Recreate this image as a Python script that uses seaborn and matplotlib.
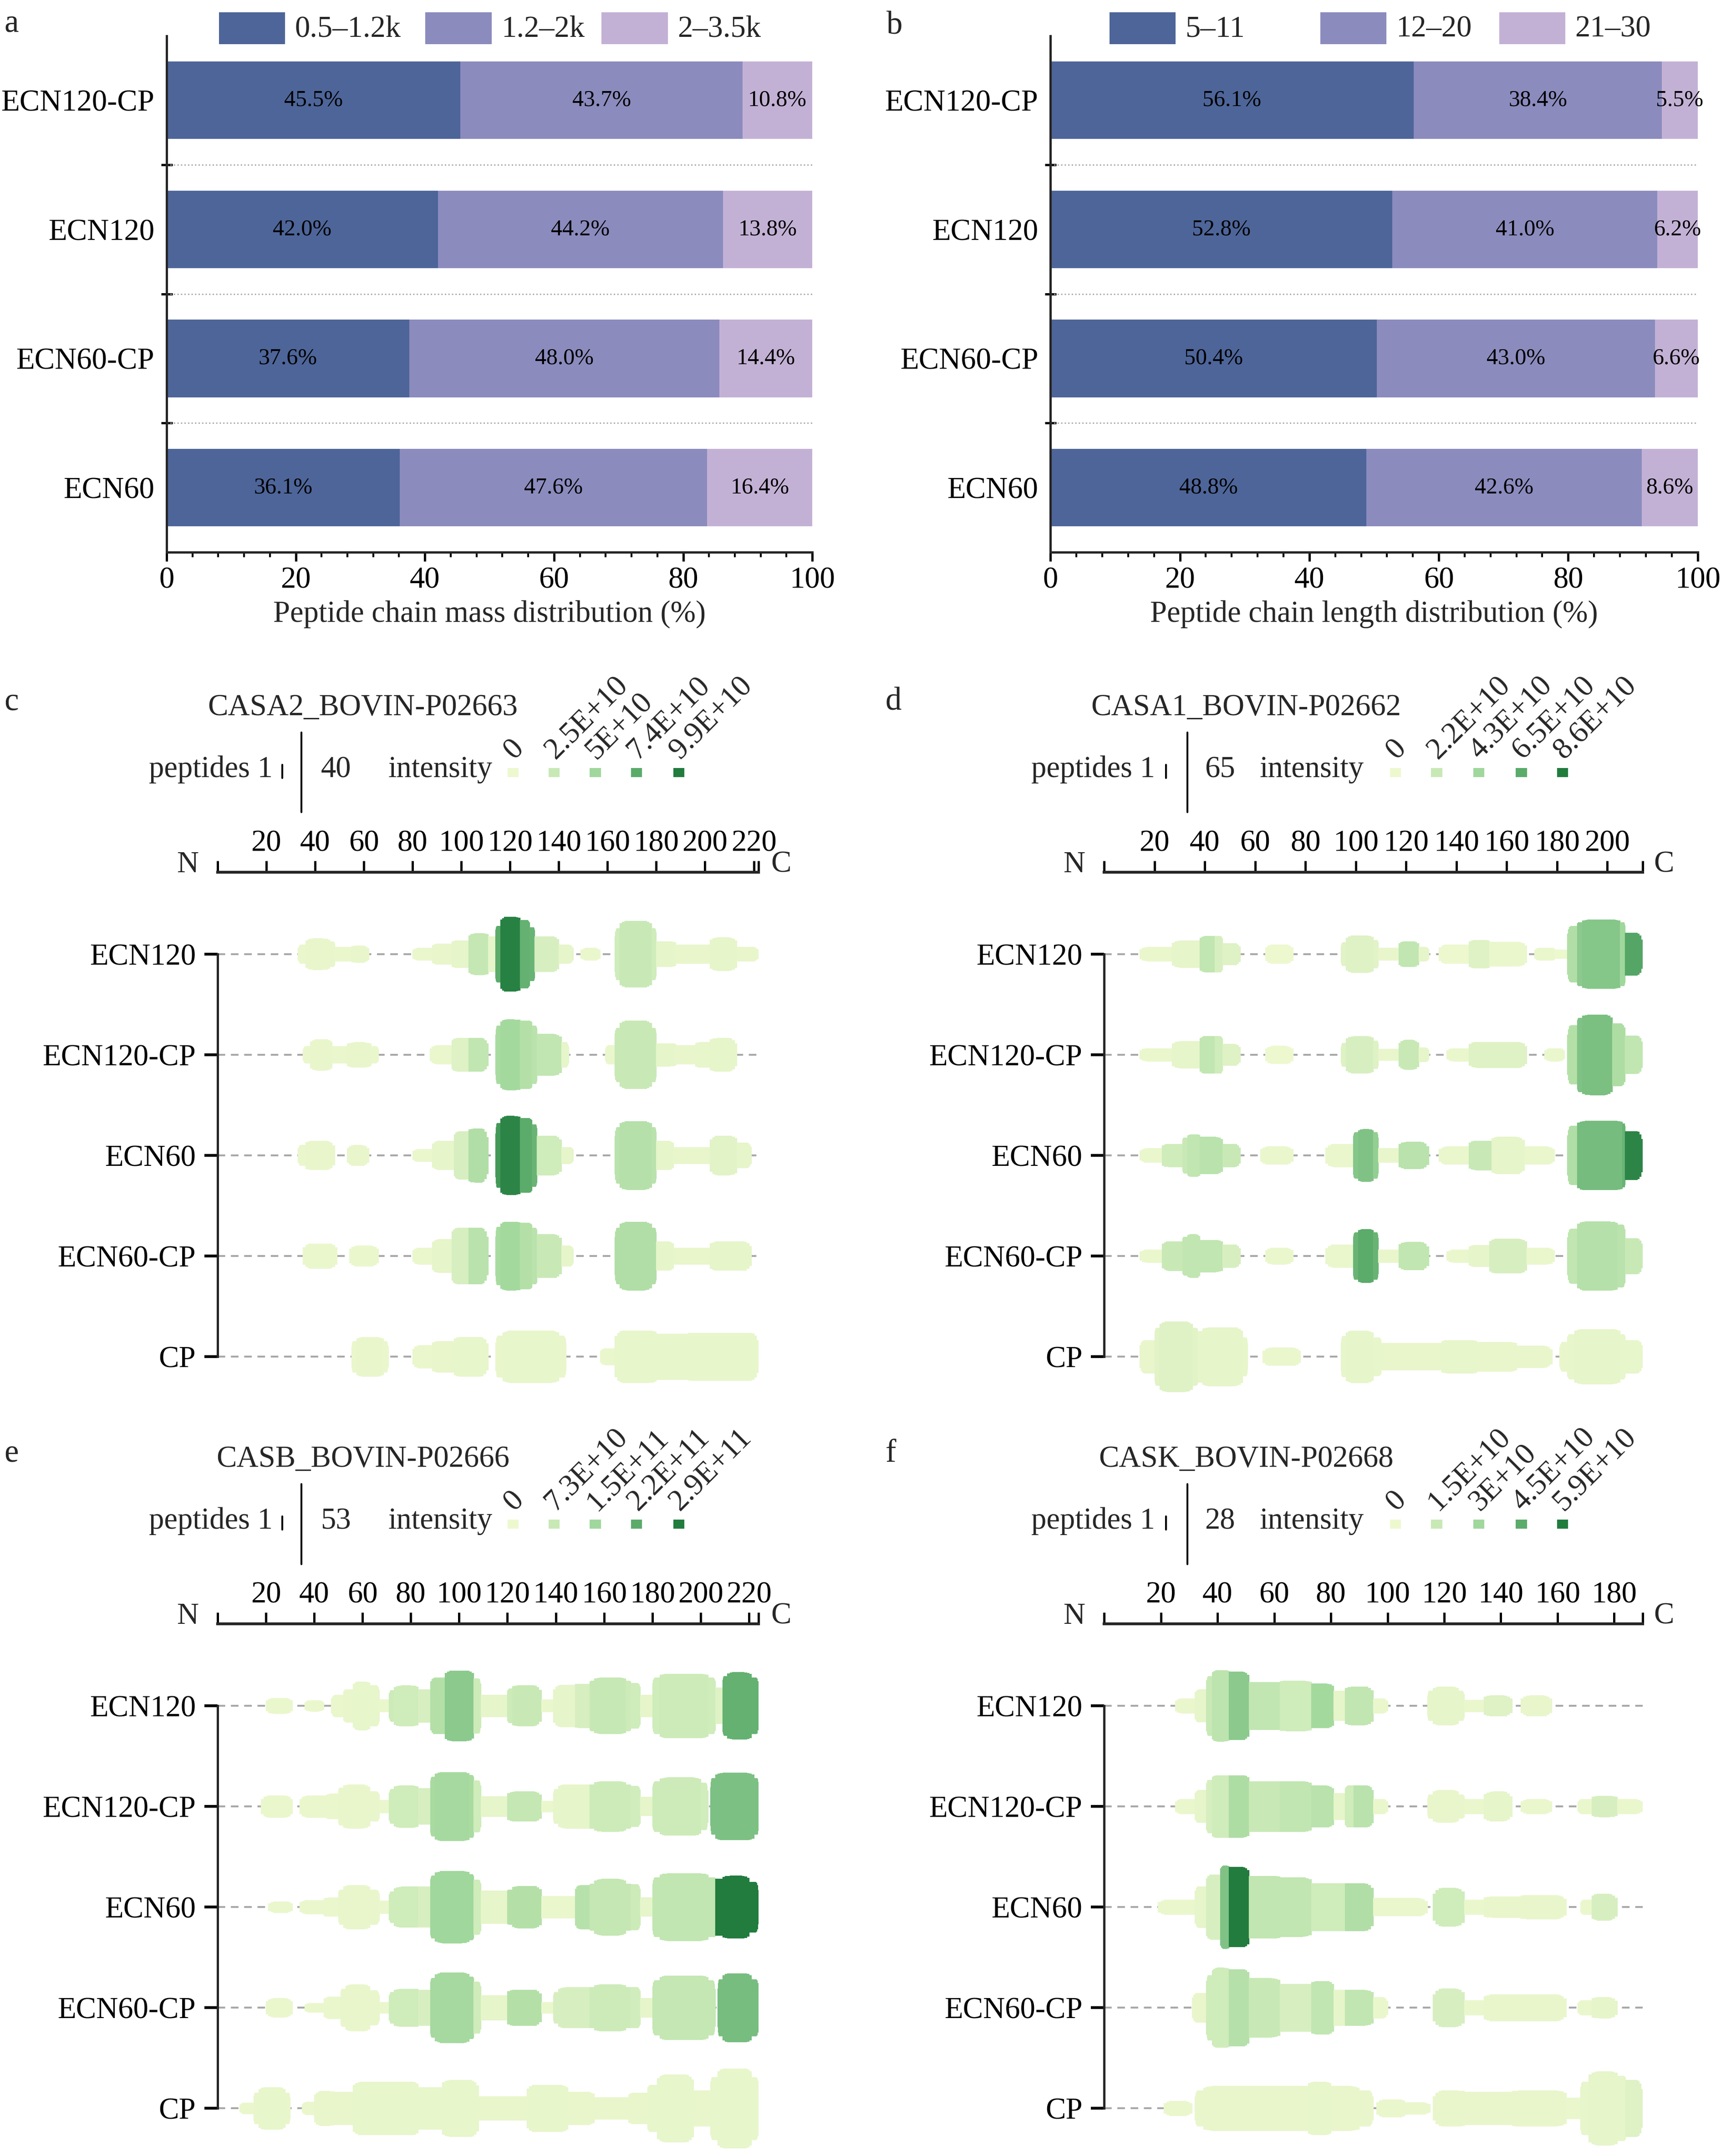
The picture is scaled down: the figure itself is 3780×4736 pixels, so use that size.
import numpy as np
import pandas as pd
import matplotlib
matplotlib.use("Agg")
import matplotlib.pyplot as plt
import seaborn as sns
from matplotlib.colors import LinearSegmentedColormap
from matplotlib.patches import Rectangle
from matplotlib.lines import Line2D
from matplotlib.ticker import MultipleLocator

# ---------------- data: panels a / b ----------------
groups = ["ECN120-CP", "ECN120", "ECN60-CP", "ECN60"]

mass_bins = ["0.5–1.2k", "1.2–2k", "2–3.5k"]
mass_low = [45.5, 42.0, 37.6, 36.1]
mass_mid = [43.7, 44.2, 48.0, 47.6]
mass_high = [10.8, 13.8, 14.4, 16.4]

len_bins = ["5–11", "12–20", "21–30"]
len_short = [56.1, 52.8, 50.4, 48.8]
len_mid = [38.4, 41.0, 43.0, 42.6]
len_long = [5.5, 6.2, 6.6, 8.6]

# ---------------- data: peptide coverage panels ----------------
samples = ["ECN120", "ECN120-CP", "ECN60", "ECN60-CP", "CP"]

# runs: (start residue, end residue, peptide count, relative intensity 0-1)
casa2_runs = {
    "ECN120": [(33, 36, 9, .02), (36, 46, 15, .03), (46, 48, 12, .03), (48, 55, 7, .02), (55, 62, 8, .03),
               (80, 88, 6, .02), (88, 96, 10, .03), (96, 103, 13, .05), (103, 111, 20, .28), (111, 114, 17, .05),
               (114, 116, 27, .75), (116, 124, 36, .97), (124, 128, 33, .72), (128, 130, 26, .7),
               (130, 140, 17, .15), (140, 146, 9, .05), (149, 157, 6, .02),
               (163, 165, 25, .2), (165, 178, 32, .25), (178, 180, 25, .2),
               (180, 188, 12, .05), (188, 202, 9, .03), (202, 213, 16, .05), (213, 222, 7, .03)],
    "ECN120-CP": [(35, 38, 8, .02), (38, 47, 15, .03), (47, 53, 8, .02), (53, 63, 12, .03), (63, 66, 8, .02),
                  (87, 96, 9, .02), (96, 103, 16, .1), (103, 111, 16, .3),
                  (114, 116, 28, .45), (116, 124, 34, .48), (124, 129, 33, .38), (129, 131, 28, .35),
                  (131, 141, 20, .3), (141, 144, 12, .05),
                  (159, 163, 9, .02), (163, 165, 26, .25), (165, 178, 33, .25), (178, 180, 26, .25),
                  (180, 188, 11, .05), (188, 196, 9, .03), (196, 202, 12, .04), (202, 213, 16, .05)],
    "ECN60": [(33, 36, 10, .02), (36, 48, 14, .03), (53, 62, 10, .03),
              (80, 88, 6, .02), (88, 97, 14, .05), (97, 103, 23, .15), (103, 111, 26, .4),
              (114, 116, 31, .85), (116, 124, 38, .95), (124, 129, 36, .75), (129, 131, 30, .7),
              (131, 141, 19, .2), (141, 146, 8, .05),
              (163, 165, 27, .35), (165, 178, 33, .37), (178, 180, 27, .35),
              (180, 187, 14, .05), (187, 202, 8, .03), (202, 213, 19, .08), (213, 219, 12, .05)],
    "ECN60-CP": [(35, 49, 12, .02), (54, 66, 10, .02),
                 (80, 88, 8, .02), (88, 96, 16, .05), (96, 103, 27, .15), (103, 111, 27, .35),
                 (114, 116, 28, .45), (116, 124, 33, .48), (124, 129, 32, .38), (129, 131, 27, .35),
                 (131, 141, 21, .25), (141, 146, 10, .05),
                 (163, 165, 27, .4), (165, 178, 33, .4), (178, 180, 27, .4),
                 (180, 187, 14, .05), (187, 202, 8, .03), (202, 219, 14, .05)],
    "CP": [(55, 57, 15, .02), (57, 68, 19, .03), (68, 70, 15, .02),
           (80, 88, 11, .02), (88, 97, 15, .03), (97, 111, 19, .04),
           (114, 117, 20, .03), (117, 140, 25, .04), (140, 143, 20, .03),
           (157, 163, 8, .02), (163, 180, 25, .04), (180, 193, 22, .04), (193, 200, 23, .04), (200, 222, 23, .04)],
}

casa1_runs = {
    "ECN120": [(14, 27, 11, .02), (27, 38, 21, .05), (38, 44, 28, .3), (44, 47, 28, .15), (47, 54, 17, .1),
               (64, 75, 15, 0), (94, 96, 18, .08), (96, 107, 29, .1), (107, 109, 22, .08), (109, 117, 10, .03),
               (117, 125, 20, .3), (125, 129, 11, .05), (133, 145, 15, 0), (145, 153, 22, .1), (153, 168, 19, .02),
               (171, 179, 10, .02), (179, 184, 7, .01), (184, 188, 44, .4), (188, 190, 50, .58), (190, 205, 54, .6),
               (205, 207, 50, .5), (207, 214, 33, .78)],
    "ECN120-CP": [(14, 27, 10, .02), (27, 38, 21, .05), (38, 44, 29, .3), (44, 47, 29, .2), (47, 54, 17, .1),
                  (64, 75, 14, 0), (94, 96, 18, .1), (96, 107, 29, .15), (107, 109, 22, .1), (109, 117, 9, .03),
                  (117, 125, 23, .25), (125, 129, 11, .05), (136, 145, 10, .02), (145, 168, 20, .1), (175, 183, 10, .02),
                  (184, 188, 46, .38), (188, 190, 58, .62), (190, 202, 63, .64), (202, 207, 49, .42), (207, 214, 30, .3)],
    "ECN60": [(14, 23, 11, .02), (23, 31, 18, .2), (31, 33, 28, .25), (33, 38, 33, .3), (38, 47, 29, .35), (47, 54, 18, .25),
              (62, 75, 14, .02), (88, 99, 18, .02), (99, 101, 36, .6), (101, 107, 41, .62), (107, 109, 36, .55),
              (109, 117, 11, .03), (117, 129, 21, .35), (133, 145, 14, .02), (145, 154, 23, .25), (154, 167, 29, .05),
              (167, 179, 14, .02), (184, 188, 46, .4), (188, 206, 54, .66), (206, 207, 50, .7), (207, 214, 38, .95)],
    "ECN60-CP": [(14, 23, 10, .02), (23, 31, 23, .25), (31, 33, 30, .3), (33, 38, 34, .3), (38, 47, 25, .3), (47, 54, 18, .15),
                 (64, 75, 13, .02), (88, 99, 18, .02), (99, 101, 37, .7), (101, 107, 42, .75), (107, 109, 37, .7),
                 (109, 117, 10, .03), (117, 129, 22, .3), (136, 145, 10, .02), (145, 153, 17, .05), (153, 168, 27, .15),
                 (168, 179, 13, .02), (184, 188, 43, .3), (188, 204, 54, .37), (204, 207, 49, .35), (207, 214, 28, .25)],
    "CP": [(14, 20, 26, .03), (20, 22, 45, .08), (22, 35, 55, .1), (35, 37, 45, .08), (37, 39, 40, .05), (39, 55, 46, .05),
           (55, 57, 30, .04), (63, 78, 14, .02), (94, 96, 32, .04), (96, 107, 41, .05), (107, 110, 30, .04),
           (110, 134, 21, .03), (134, 148, 26, .04), (148, 164, 23, .03), (164, 178, 17, .03), (181, 184, 23, .03),
           (184, 187, 35, .04), (187, 205, 43, .05), (205, 207, 35, .04), (207, 214, 26, .04)],
}

casb_runs = {
    "ECN120": [(20, 31, 10, .02), (36, 44, 7, .02), (47, 52, 14, .02), (52, 56, 21, .03), (56, 63, 31, .04), (63, 67, 26, .04),
               (67, 71, 8, .02), (71, 73, 20, .22), (73, 83, 26, .2), (83, 88, 21, .15), (88, 94, 36, .38), (94, 106, 45, .58),
               (106, 109, 35, .22), (109, 120, 14, .05), (120, 122, 22, .22), (122, 134, 26, .25), (134, 139, 8, .02),
               (139, 148, 27, .05), (148, 154, 28, .15), (154, 156, 32, .26), (156, 169, 36, .27), (169, 171, 32, .22),
               (171, 175, 29, .2), (175, 180, 14, .05), (180, 183, 36, .2), (183, 203, 41, .22), (203, 206, 36, .2),
               (206, 209, 23, .1), (209, 211, 38, .72), (211, 221, 43, .72), (221, 224, 36, .72)],
    "ECN120-CP": [(18, 31, 14, .02), (34, 45, 14, .02), (45, 50, 16, .02), (50, 52, 24, .03), (52, 63, 28, .03), (63, 67, 19, .03),
                  (67, 71, 8, .02), (71, 73, 22, .2), (73, 83, 27, .2), (83, 88, 23, .15), (88, 90, 38, .45), (90, 104, 44, .47),
                  (104, 106, 40, .45), (106, 109, 33, .2), (109, 120, 13, .05), (120, 134, 19, .28), (134, 139, 7, .02),
                  (139, 141, 22, .05), (141, 154, 28, .05), (154, 156, 28, .22), (156, 169, 32, .22), (169, 171, 28, .22),
                  (171, 175, 26, .18), (175, 180, 12, .05), (180, 183, 32, .22), (183, 200, 37, .22), (200, 203, 30, .18),
                  (204, 206, 36, .63), (206, 222, 43, .63), (222, 224, 36, .63)],
    "ECN60": [(21, 31, 7, .02), (34, 44, 9, .02), (44, 50, 12, .02), (50, 52, 22, .03), (52, 63, 28, .03), (63, 67, 22, .03),
              (67, 71, 8, .02), (71, 73, 20, .2), (73, 83, 26, .2), (83, 88, 26, .15), (88, 90, 40, .5), (90, 104, 46, .5),
              (104, 106, 42, .5), (106, 109, 35, .2), (109, 120, 21, .05), (120, 122, 22, .38), (122, 134, 27, .38),
              (134, 148, 14, .02), (148, 154, 28, .36), (154, 156, 30, .28), (156, 169, 36, .28), (169, 171, 30, .28),
              (171, 175, 29, .22), (175, 180, 12, .05), (180, 183, 38, .3), (183, 203, 43, .3), (203, 206, 38, .3),
              (206, 209, 36, 1.0), (209, 220, 40, 1.0), (220, 224, 32, 1.0)],
    "ECN60-CP": [(20, 31, 12, .02), (36, 44, 6, .02), (44, 51, 14, .02), (51, 53, 24, .03), (53, 63, 30, .03), (63, 67, 22, .03),
                 (67, 71, 7, .02), (71, 73, 20, .2), (73, 83, 24, .2), (83, 88, 23, .15), (88, 90, 38, .47), (90, 104, 45, .47),
                 (104, 106, 40, .47), (106, 109, 33, .2), (109, 120, 16, .05), (120, 134, 23, .38), (134, 139, 7, .02),
                 (139, 141, 20, .15), (141, 154, 26, .15), (154, 156, 26, .22), (156, 169, 30, .22), (169, 171, 26, .22),
                 (171, 175, 26, .18), (175, 180, 12, .05), (180, 183, 35, .28), (183, 203, 41, .28), (203, 206, 35, .28),
                 (207, 209, 36, .65), (209, 221, 44, .65), (221, 224, 36, .65)],
    "CP": [(9, 15, 7, .02), (15, 17, 20, .03), (17, 28, 27, .04), (28, 30, 20, .03), (35, 40, 8, .02), (40, 48, 22, .03),
           (48, 56, 21, .03), (56, 83, 34, .04), (83, 93, 27, .04), (93, 108, 36, .04), (108, 128, 15, .03),
           (128, 145, 30, .04), (145, 156, 21, .03), (156, 170, 14, .03), (170, 178, 20, .03), (178, 182, 30, .04),
           (182, 197, 43, .04), (197, 204, 23, .03), (204, 207, 40, .04), (207, 221, 51, .04), (221, 224, 40, .04)],
}

cask_runs = {
    "ECN120": [(25, 32, 5, .02), (32, 36, 11, .05), (36, 38, 20, .25), (38, 44, 24, .32), (44, 51, 23, .58), (51, 62, 16, .3),
               (62, 73, 17, .2), (73, 81, 15, .48), (81, 85, 10, .05), (85, 95, 13, .3), (95, 100, 5, .02),
               (114, 116, 10, .05), (116, 125, 13, .05), (125, 127, 10, .05), (127, 134, 4, .02), (134, 144, 7, .1),
               (147, 158, 7, .03)],
    "ECN120-CP": [(25, 32, 5, .02), (32, 36, 11, .05), (36, 38, 18, .15), (38, 44, 21, .2), (44, 51, 21, .42), (51, 62, 17, .25),
                  (62, 73, 17, .3), (73, 81, 14, .35), (81, 85, 9, .05), (85, 88, 14, .2), (88, 95, 14, .35), (95, 100, 5, .02),
                  (114, 116, 8, .03), (116, 125, 11, .03), (125, 127, 8, .03), (127, 134, 5, .02), (134, 144, 10, .05),
                  (147, 158, 5, .02), (167, 172, 5, .02), (172, 181, 7, .15), (181, 190, 5, .02)],
    "ECN60": [(19, 32, 5, .02), (32, 36, 14, .05), (36, 41, 22, .15), (41, 44, 28, .62), (44, 51, 27, 1.0), (51, 62, 21, .3),
              (62, 73, 20, .3), (73, 85, 16, .2), (85, 95, 16, .4), (95, 114, 6, .02), (116, 127, 13, .2),
              (127, 134, 5, .02), (134, 147, 7, .03), (147, 163, 8, .03), (168, 172, 5, .02), (172, 181, 9, .15)],
    "ECN60-CP": [(31, 36, 10, .03), (36, 38, 22, .2), (38, 44, 27, .2), (44, 51, 26, .37), (51, 62, 20, .25), (62, 73, 16, .15),
                 (73, 81, 18, .3), (81, 85, 12, .05), (85, 95, 12, .3), (95, 100, 7, .02), (116, 127, 13, .15),
                 (127, 134, 5, .02), (134, 163, 9, .03), (167, 172, 5, .02), (172, 181, 7, .05)],
    "CP": [(21, 31, 5, .02), (32, 35, 12, .03), (35, 72, 15, .03), (72, 80, 18, .04), (80, 90, 15, .03), (90, 95, 12, .03),
           (96, 106, 6, .02), (106, 115, 4, .02), (116, 127, 12, .03), (127, 144, 11, .03), (144, 163, 12, .03),
           (163, 168, 7, .02), (168, 171, 18, .04), (171, 181, 25, .05), (181, 184, 22, .05), (184, 190, 19, .1)],
}

proteins = ["CASA2_BOVIN-P02663", "CASA1_BOVIN-P02662", "CASB_BOVIN-P02666", "CASK_BOVIN-P02668"]
protein_length = [222, 214, 224, 190]
max_peptides = [40, 65, 53, 28]
intensity_labels = [
    ["0", "2.5E+10", "5E+10", "7.4E+10", "9.9E+10"],
    ["0", "2.2E+10", "4.3E+10", "6.5E+10", "8.6E+10"],
    ["0", "7.3E+10", "1.5E+11", "2.2E+11", "2.9E+11"],
    ["0", "1.5E+10", "3E+10", "4.5E+10", "5.9E+10"],
]
coverage_runs = [casa2_runs, casa1_runs, casb_runs, cask_runs]

# ---------------- style ----------------
sns.set_theme(style="ticks")
plt.rcParams["font.family"] = ["Liberation Serif", "DejaVu Serif"]
plt.rcParams["axes.linewidth"] = 1.2
plt.rcParams["xtick.color"] = "black"
plt.rcParams["ytick.color"] = "black"

bar_colors = ["#4E6599", "#8B8BBE", "#C3B1D5"]
green = LinearSegmentedColormap.from_list(
    "pep", ["#EDF8CF", "#C8E9B6", "#A1D79C", "#5CAC6C", "#217C3E"])

FS = 16
W, H = 1250.0, 1566.0  # layout grid (px of a reduced canvas)

fig = plt.figure(figsize=(3780 / 300, 4736 / 300), dpi=300)


def fx(x):
    return x / W


def fy(y):
    return 1 - y / H


def axes_px(l, t, r, b):
    return fig.add_axes([fx(l), fy(b), fx(r) - fx(l), (b - t) / H])


# ---------------- panels a / b ----------------
def stacked_panel(ax, parts, bins, xlabel, legend_x):
    parts = np.array(parts)
    cum = np.cumsum(parts, axis=0)
    for i in reversed(range(3)):
        sns.barplot(x=cum[i], y=groups, orient="h", color=bar_colors[i], saturation=1,
                    width=0.6, linewidth=0, ax=ax, zorder=2)
    for i in range(3):
        left = cum[i - 1] if i > 0 else np.zeros(4)
        for j in range(4):
            ax.text(left[j] + parts[i][j] / 2, j, f"{parts[i][j]:.1f}%", ha="center",
                    va="center", fontsize=12, color="black", zorder=3)
    ax.hlines([0.5, 1.5, 2.5], 0, 100, colors="#A8A8A8", linestyles=":", lw=0.7, zorder=1)
    ax.set_xlim(0, 100)
    ax.set_ylim(3.5, -0.5)
    ax.set_xticks(range(0, 101, 20))
    ax.xaxis.set_minor_locator(MultipleLocator(4))
    ax.set_yticks([0.5, 1.5, 2.5], minor=True)
    ax.tick_params(axis="x", which="major", length=4.7, width=1.2, direction="out", labelsize=FS, pad=3)
    ax.tick_params(axis="x", which="minor", length=2.6, width=1.0, direction="out")
    ax.tick_params(axis="y", which="major", length=0, pad=6.5, labelsize=FS)
    ax.tick_params(axis="y", which="minor", length=6, width=1.2, direction="inout")
    ax.set_xlabel(xlabel, fontsize=FS, labelpad=3)
    ax.set_ylabel("")
    sns.despine(ax=ax)
    # legend across the top
    for k in range(3):
        x0 = legend_x[k]
        fig.add_artist(Rectangle((fx(x0), fy(32)), 48 / W, 23 / H, transform=fig.transFigure,
                                 facecolor=bar_colors[k], edgecolor="none"))
        fig.text(fx(x0 + 55), fy(21), bins[k], fontsize=FS, va="center", ha="left")


ax_a = axes_px(121, 26, 590, 401)
stacked_panel(ax_a, [mass_low, mass_mid, mass_high], mass_bins,
              "Peptide chain mass distribution (%)", [159, 309, 437])
ax_b = axes_px(763, 26, 1233, 401)
stacked_panel(ax_b, [len_short, len_mid, len_long], len_bins,
              "Peptide chain length distribution (%)", [806, 959, 1089])
fig.text(fx(3), fy(23), "a", fontsize=17)
fig.text(fx(644), fy(24.5), "b", fontsize=17)

# ---------------- coverage panels c-f ----------------
ROW = 73.1
HSCALE = 60 / ROW
EDGE = [0.68, 0.87, 0.97]  # softened corner steps


def draw_row(ax, runs, row, mp):
    # each run is a bar; the sides that stand above a lower neighbour get softened corners
    runs = sorted(runs)
    hs = [c / mp * HSCALE for _, _, c, _ in runs]
    xs, ws, hh, cols = [], [], [], []
    for k, (s, e, c, lv) in enumerate(runs):
        h = hs[k]
        hl = hs[k - 1] if k > 0 and runs[k - 1][1] == s else 0.0
        hr = hs[k + 1] if k + 1 < len(runs) and runs[k + 1][0] == e else 0.0
        r = min(0.3 * (e - s), 3.0)
        step = r / len(EDGE)
        a, b = s, e
        pieces = []
        if hl < h:
            for q, f in enumerate(EDGE):
                pieces.append((s + q * step, s + (q + 1) * step, hl + f * (h - hl)))
            a = s + r
        if hr < h:
            for q, f in enumerate(EDGE):
                pieces.append((e - (q + 1) * step, e - q * step, hr + f * (h - hr)))
            b = e - r
        pieces.append((a, b, h))
        for p0, p1, ph in pieces:
            xs.append(p0)
            ws.append(p1 - p0)
            hh.append(ph)
            cols.append(green(lv))
    hh = np.array(hh)
    ax.bar(xs, hh, width=ws, bottom=row - hh / 2, align="edge", color=cols,
           edgecolor=cols, linewidth=0.3, zorder=2)


left_geo = dict(x0=158, x1=551, letter=3, title=263.5, pep=198, small=205, line=219,
                maxt=233, inten=282, sq=[372.6, 402.5, 432.4, 462.3, 493], n=144.3, c=560)
right_geo = dict(x0=802, x1=1193, letter=643, title=905, pep=839, small=847, line=862.5,
                 maxt=875, inten=915, sq=[1013.6, 1043.5, 1074, 1105, 1135], n=788, c=1201)
letters = ["c", "d", "e", "f"]

for p in range(4):
    g = left_geo if p % 2 == 0 else right_geo
    dy = 0 if p < 2 else 546
    L = protein_length[p]
    mp = max_peptides[p]
    runs = coverage_runs[p]

    top_px, row0_px = 633.6 + dy, 692.9 + dy
    bot_px = min(1030 + dy, H)
    ax = axes_px(g["x0"], top_px, g["x1"], bot_px)
    for i, s in enumerate(samples):
        ax.plot([0, L], [i, i], color="#A8A8A8", lw=1.0, dashes=(4, 3), zorder=1)
        draw_row(ax, runs[s], i, mp)
    ax.set_xlim(0, L)
    ax.set_ylim((bot_px - row0_px) / ROW, (top_px - row0_px) / ROW)
    ax.xaxis.tick_top()
    xt = list(range(0, L, 20)) + [L]
    ax.set_xticks(xt)
    ax.set_xticklabels([""] + [str(t) for t in xt[1:-1]] + [""])
    ax.tick_params(axis="x", top=True, bottom=False, direction="out", length=5.9, width=1.2,
                   pad=2, labelsize=FS)
    ax.set_yticks(range(5))
    ax.set_yticklabels(samples)
    ax.tick_params(axis="y", direction="out", length=7, width=1.5, pad=4.5, labelsize=FS)
    for sp in ["right", "bottom"]:
        ax.spines[sp].set_visible(False)
    ax.spines["top"].set_bounds(0, L)
    ax.spines["top"].set_linewidth(1.5)
    ax.spines["left"].set_bounds(0, 4)
    ax.spines["left"].set_linewidth(1.2)
    ax.set_facecolor("none")

    # header: letter, title, peptide scale, intensity scale
    fig.text(fx(g["letter"]), fy(515.6 + dy), letters[p], fontsize=17, va="baseline")
    fig.text(fx(g["title"]), fy(519.4 + dy), proteins[p], fontsize=FS, ha="center", va="baseline")
    fig.text(fx(g["pep"]), fy(564.5 + dy), "peptides 1", fontsize=FS, ha="right", va="baseline")
    fig.add_artist(Line2D([fx(g["small"])] * 2, [fy(555.5 + dy), fy(565 + dy)],
                          transform=fig.transFigure, color="black", lw=1.0))
    fig.add_artist(Line2D([fx(g["line"])] * 2, [fy(532 + dy), fy(590 + dy)],
                          transform=fig.transFigure, color="black", lw=1.0))
    fig.text(fx(g["maxt"]), fy(564.5 + dy), str(mp), fontsize=FS, ha="left", va="baseline")
    fig.text(fx(g["inten"]), fy(564.5 + dy), "intensity", fontsize=FS, ha="left", va="baseline")
    for k, sx in enumerate(g["sq"]):
        fig.add_artist(Rectangle((fx(sx - 4), fy(564.4 + dy)), 8 / W, 6.7 / H,
                                 transform=fig.transFigure, facecolor=green(k / 4), edgecolor="none"))
        fig.text(fx(sx + 0.8), fy(552 + dy), intensity_labels[p][k], fontsize=FS, rotation=45,
                 rotation_mode="anchor", ha="left", va="baseline")
    fig.text(fx(g["n"]), fy(628 + dy), "N", fontsize=FS, ha="right", va="center")
    fig.text(fx(g["c"]), fy(628 + dy), "C", fontsize=FS, ha="left", va="center")

fig.savefig("out.png", dpi=300)
